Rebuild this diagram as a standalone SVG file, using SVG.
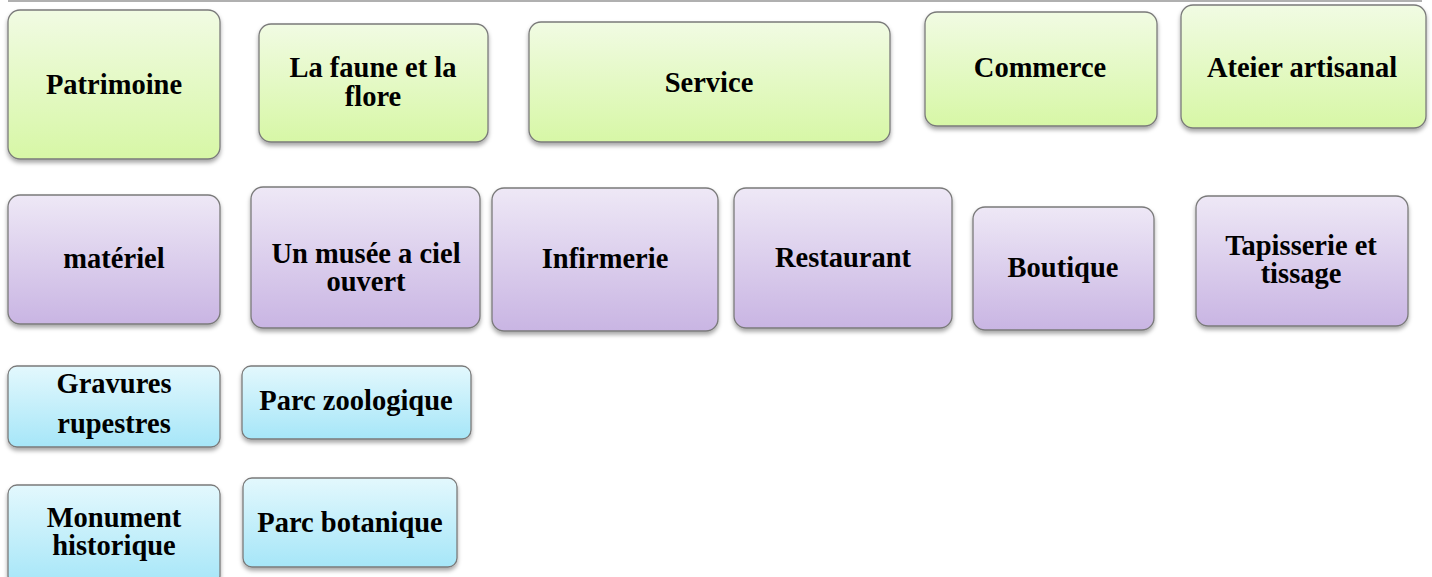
<svg xmlns="http://www.w3.org/2000/svg" width="1432" height="577" viewBox="0 0 1432 577">
<defs>
<linearGradient id="gGreen" x1="0" y1="0" x2="0" y2="1"><stop offset="0" stop-color="#f1fbe3"/><stop offset="1" stop-color="#d7f7a6"/></linearGradient>
<linearGradient id="gPurple" x1="0" y1="0" x2="0" y2="1"><stop offset="0" stop-color="#eee8f6"/><stop offset="1" stop-color="#c9b5e3"/></linearGradient>
<linearGradient id="gBlue" x1="0" y1="0" x2="0" y2="1"><stop offset="0" stop-color="#e3f8fd"/><stop offset="1" stop-color="#a6e6f8"/></linearGradient>
<filter id="sh" x="-10%" y="-10%" width="120%" height="130%"><feDropShadow dx="0" dy="3" stdDeviation="2" flood-color="#000" flood-opacity="0.35"/></filter>
</defs>
<style>
.box{stroke:#7a7a7a;stroke-width:1.3;filter:url(#sh)}
.g{fill:url(#gGreen)}
.p{fill:url(#gPurple)}
.b{fill:url(#gBlue)}
text{font-family:"Liberation Serif","Times New Roman",serif;font-weight:bold;font-size:28.5px;fill:#000;text-anchor:middle}
</style>
<rect width="1432" height="577" fill="#fff"/>
<line x1="8" y1="1" x2="1422" y2="1" stroke="#b0b0b0" stroke-width="2"/>
<g id="connectors"></g>
<g id="n-patrimoine"><rect class="box g" x="8" y="10" width="212" height="149" rx="12"/><text x="114" y="94">Patrimoine</text></g>
<g id="n-faune"><rect class="box g" x="259" y="24" width="229" height="118" rx="12"/><text x="373" y="77">La faune et la</text><text x="373" y="106">flore</text></g>
<g id="n-service"><rect class="box g" x="529" y="22" width="361" height="120" rx="12"/><text x="709" y="92">Service</text></g>
<g id="n-commerce"><rect class="box g" x="925" y="12" width="232" height="114" rx="12"/><text x="1040" y="77">Commerce</text></g>
<g id="n-atelier"><rect class="box g" x="1181" y="5" width="245" height="123" rx="12"/><text x="1302" y="77">Ateier artisanal</text></g>
<g id="n-materiel"><rect class="box p" x="8" y="195" width="212" height="129" rx="12"/><text x="114" y="268">matériel</text></g>
<g id="n-musee"><rect class="box p" x="251" y="187" width="229" height="141" rx="12"/><text x="366" y="263">Un musée a ciel</text><text x="366" y="291">ouvert</text></g>
<g id="n-infirmerie"><rect class="box p" x="492" y="188" width="226" height="143" rx="12"/><text x="605" y="268">Infirmerie</text></g>
<g id="n-restaurant"><rect class="box p" x="734" y="188" width="218" height="140" rx="12"/><text x="843" y="267">Restaurant</text></g>
<g id="n-boutique"><rect class="box p" x="973" y="207" width="181" height="123" rx="12"/><text x="1063" y="277">Boutique</text></g>
<g id="n-tapisserie"><rect class="box p" x="1196" y="196" width="212" height="130" rx="12"/><text x="1301" y="255">Tapisserie et</text><text x="1301" y="283">tissage</text></g>
<g id="n-gravures"><rect class="box b" x="8" y="366" width="212" height="81" rx="9"/><text x="114" y="393">Gravures</text><text x="114" y="433">rupestres</text></g>
<g id="n-zoo"><rect class="box b" x="242" y="366" width="229" height="73" rx="9"/><text x="356" y="410">Parc zoologique</text></g>
<g id="n-monument"><rect class="box b" x="8" y="485" width="212" height="100" rx="9"/><text x="114" y="527">Monument</text><text x="114" y="555">historique</text></g>
<g id="n-botanique"><rect class="box b" x="243" y="478" width="214" height="89" rx="9"/><text x="350" y="532">Parc botanique</text></g>
</svg>
